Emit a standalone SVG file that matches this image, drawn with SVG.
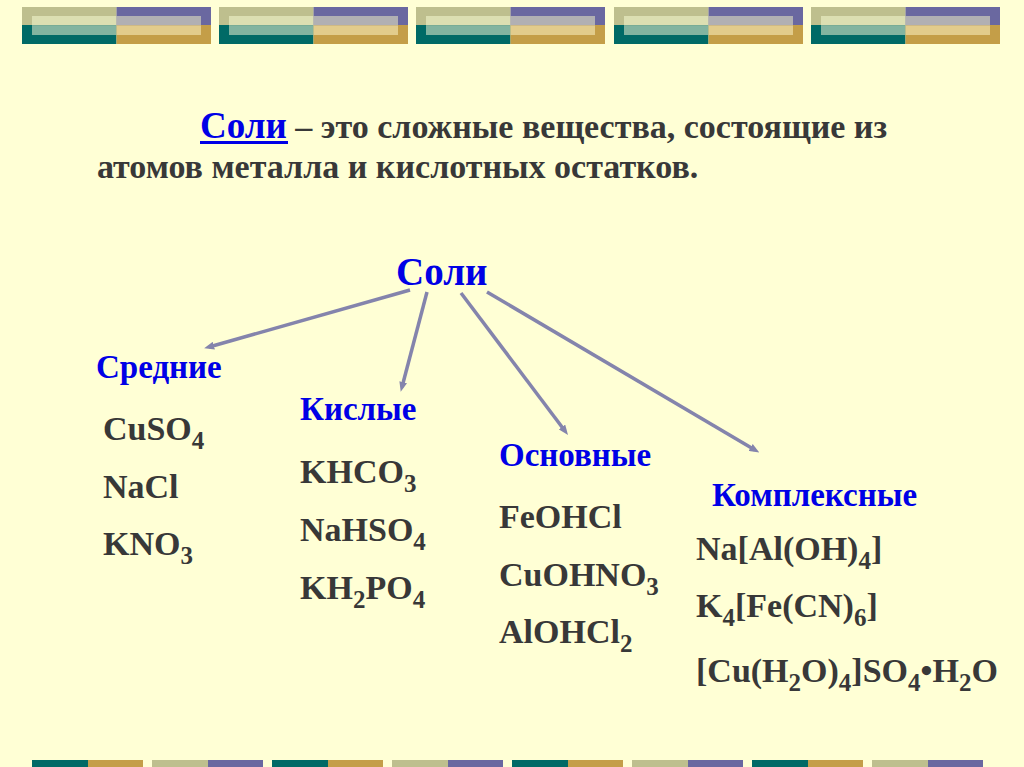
<svg xmlns="http://www.w3.org/2000/svg" width="1024" height="767" viewBox="0 0 1024 767">
<defs>
<style>
.t{font-family:"Liberation Serif","Times New Roman",serif;font-weight:bold}
.blue{fill:#0000e6}
.dark{fill:#383838}
.h{font-size:33px}
.f{font-size:34px}
.s{font-size:25px}
.conn line{stroke:#8484ac;stroke-width:3.5;marker-end:url(#ah)}
.o{fill:#bebf8e}.p{fill:#6a68a0}.tl{fill:#006a66}.g{fill:#c49e48}
.lo{fill:#dcdfb2}.lp{fill:#b1b0b3}.lt{fill:#82b4a0}.lg{fill:#e2cc8c}
</style>
<marker id="ah" markerWidth="10" markerHeight="8" refX="5" refY="4" orient="auto" markerUnits="userSpaceOnUse">
<path d="M0,0 L10,4 L0,8 z" fill="#8484ac"/>
</marker>
<g id="blk">
<rect x="0" y="0" width="94.5" height="18" class="o"/>
<rect x="94.5" y="0" width="94.5" height="18" class="p"/>
<rect x="0" y="18" width="94.5" height="19" class="tl"/>
<rect x="94.5" y="18" width="94.5" height="19" class="g"/>
<rect x="10" y="9" width="84.5" height="9.5" class="lo"/>
<rect x="94.5" y="9" width="84.5" height="9.5" class="lp"/>
<rect x="10" y="18.5" width="84.5" height="9.5" class="lt"/>
<rect x="94.5" y="18.5" width="84.5" height="9.5" class="lg"/>
</g>
<g id="bA"><rect x="0" y="0" width="56" height="7" class="tl"/><rect x="56" y="0" width="55" height="7" class="g"/></g>
<g id="bB"><rect x="0" y="0" width="56" height="7" class="o"/><rect x="56" y="0" width="55" height="7" class="p"/></g>
</defs>
<rect width="1024" height="767" fill="#ffffd5"/>
<g id="topband">
<use href="#blk" x="22" y="7"/>
<use href="#blk" x="219" y="7"/>
<use href="#blk" x="416" y="7"/>
<use href="#blk" x="614" y="7"/>
<use href="#blk" x="811" y="7"/>
</g>
<g id="bottomband">
<use href="#bA" x="32" y="760"/>
<use href="#bB" x="152" y="760"/>
<use href="#bA" x="272" y="760"/>
<use href="#bB" x="392" y="760"/>
<use href="#bA" x="512" y="760"/>
<use href="#bB" x="632" y="760"/>
<use href="#bA" x="752" y="760"/>
<use href="#bB" x="872" y="760"/>
</g>
<g id="definition" class="t" font-size="34">
<text x="200" y="138"><tspan class="blue" font-size="37">Соли</tspan><tspan class="dark"> – это сложные вещества, состоящие из</tspan></text>
<rect x="200" y="141" width="88" height="3" fill="#0000e6"/>
<text x="97" y="178" class="dark">атомов металла и кислотных остатков.</text>
</g>
<g id="root"><text x="396" y="285" class="t blue" font-size="39">Соли</text></g>
<g class="conn" id="connectors">
<line x1="410" y1="290" x2="209" y2="347"/>
<line x1="427" y1="292" x2="402" y2="387"/>
<line x1="461" y1="293" x2="565" y2="431"/>
<line x1="487" y1="292" x2="755" y2="450"/>
</g>
<g id="srednie" class="t">
<text x="96" y="378" class="h blue">Средние</text>
<text x="103" y="440" class="f dark">CuSO<tspan dy="9" class="s">4</tspan></text>
<text x="103" y="498" class="f dark">NaCl</text>
<text x="103" y="555" class="f dark">KNO<tspan dy="9" class="s">3</tspan></text>
</g>
<g id="kislye" class="t">
<text x="300" y="420" class="h blue">Кислые</text>
<text x="300" y="483" class="f dark">KHCO<tspan dy="9" class="s">3</tspan></text>
<text x="300" y="541" class="f dark">NaHSO<tspan dy="9" class="s">4</tspan></text>
<text x="300" y="599" class="f dark">KH<tspan dy="9" class="s">2</tspan><tspan dy="-9">PO</tspan><tspan dy="9" class="s">4</tspan></text>
</g>
<g id="osnovnye" class="t">
<text x="499" y="466" class="h blue">Основные</text>
<text x="499" y="528" class="f dark">FeOHCl</text>
<text x="499" y="586" class="f dark">CuOHNO<tspan dy="9" class="s">3</tspan></text>
<text x="499" y="643" class="f dark">AlOHCl<tspan dy="9" class="s">2</tspan></text>
</g>
<g id="kompleksnye" class="t">
<text x="712" y="506" class="h blue">Комплексные</text>
<text x="696" y="560" class="f dark">Na[Al(OH)<tspan dy="9" class="s">4</tspan><tspan dy="-9">]</tspan></text>
<text x="696" y="617" class="f dark">K<tspan dy="9" class="s">4</tspan><tspan dy="-9">[Fe(CN)</tspan><tspan dy="9" class="s">6</tspan><tspan dy="-9">]</tspan></text>
<text x="696" y="682" class="f dark">[Cu(H<tspan dy="9" class="s">2</tspan><tspan dy="-9">O)</tspan><tspan dy="9" class="s">4</tspan><tspan dy="-9">]SO</tspan><tspan dy="9" class="s">4</tspan><tspan dy="-9">•H</tspan><tspan dy="9" class="s">2</tspan><tspan dy="-9">O</tspan></text>
</g>
</svg>
